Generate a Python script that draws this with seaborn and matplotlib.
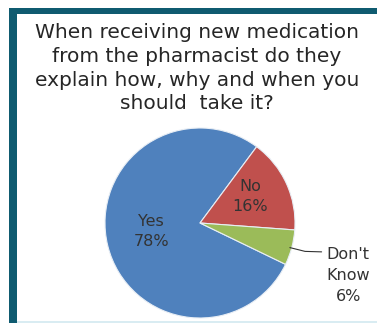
import numpy as np
import matplotlib
matplotlib.use("Agg")
import matplotlib.pyplot as plt
from matplotlib.patches import Rectangle
import seaborn as sns

sns.set_theme(style="white")
plt.rcParams["font.family"] = ["DejaVu Sans"]

# Survey responses
categories = ["Yes", "No", "Don't\nKnow"]
shares = [78, 16, 6]
colors = ["#4f81bd", "#c0504d", "#9bbb59"]
title = "When receiving new medication\nfrom the pharmacist do they\nexplain how, why and when you\nshould  take it?"

W, H = 377, 323
fig = plt.figure(figsize=(W / 100, H / 100), dpi=100)
fig.patch.set_facecolor("white")

# Frame: teal bar along top and left, pale strip at the bottom
teal = "#0f5b70"
fig.add_artist(Rectangle((9 / W, 1 - 14 / H), 1 - 9 / W, 6 / H,
                         transform=fig.transFigure, color=teal, lw=0))
fig.add_artist(Rectangle((9 / W, 0), 8 / W, 1 - 8 / H,
                         transform=fig.transFigure, color=teal, lw=0))
fig.add_artist(Rectangle((17 / W, 0), 1 - 17 / W, 2 / H,
                         transform=fig.transFigure, color="#d9ecf2", lw=0))

fig.text(197 / W, 1 - 23 / H, title, ha="center", va="top",
         fontsize=14.5, color="#262626", linespacing=1.32)

# Pie
cx, cy, r = 200, 223, 95
ax = fig.add_axes([(cx - r) / W, (H - cy - r) / H, 2 * r / W, 2 * r / H])
wedges, _ = ax.pie(shares, colors=colors, startangle=334.2, counterclock=False,
                   radius=1, wedgeprops=dict(edgecolor="#e8eef5", linewidth=0.8))
ax.set_xlim(-1, 1)
ax.set_ylim(-1, 1)
ax.set_aspect("equal")
ax.axis("off")

label_r = [0.53, 0.58]
for i, (w, cat, val) in enumerate(zip(wedges, categories, shares)):
    mid = np.deg2rad((w.theta1 + w.theta2) / 2)
    if i < 2:
        ax.text(label_r[i] * np.cos(mid), label_r[i] * np.sin(mid) + 0.04,
                f"{cat}\n{val}%", ha="center", va="center", fontsize=11.5,
                color="#333333", linespacing=1.45)
    else:
        x0, y0 = np.cos(mid), np.sin(mid)
        ax.plot([x0 - 0.02, x0 + 0.14, 1.28], [y0, y0 - 0.04, y0 - 0.045],
                color="#333333", lw=0.8, clip_on=False)
        ax.text(1.56, y0 - 0.29, f"{cat}\n{val}%", ha="center", va="center",
                fontsize=11.5, color="#333333", linespacing=1.5)

fig.savefig("out.png", dpi=100, facecolor=fig.get_facecolor())
